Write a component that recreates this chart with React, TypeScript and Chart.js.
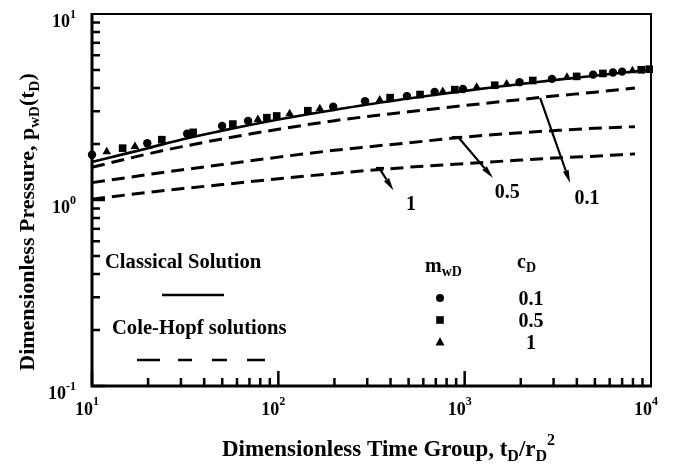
import React, { useEffect, useRef } from "react";
import { Chart, registerables } from "chart.js";

Chart.register(...registerables);

const FONT = '"Liberation Serif", "Times New Roman", serif';

// ---- Data ----
const classicalT = [10, 15, 20, 30, 50, 70, 100, 150, 200, 300, 500, 700, 1000, 1500, 2000, 3000, 5000, 7000, 10000];
const classicalP = [1.6, 1.77, 1.9, 2.11, 2.36, 2.53, 2.71, 2.91, 3.05, 3.26, 3.51, 3.68, 3.86, 4.06, 4.2, 4.41, 4.66, 4.83, 5.01];

const coleT = [10, 20, 30, 50, 100, 200, 300, 500, 1000, 2000, 3000, 5000, 8200];
const cole01 = [1.5, 1.77, 1.93, 2.13, 2.4, 2.67, 2.81, 2.98, 3.22, 3.47, 3.62, 3.8, 4.0];
const cole05 = [1.24, 1.37, 1.45, 1.55, 1.7, 1.85, 1.93, 2.03, 2.18, 2.3, 2.36, 2.43, 2.48];
const cole1 = [1.01, 1.1, 1.15, 1.21, 1.3, 1.39, 1.44, 1.5, 1.57, 1.64, 1.68, 1.72, 1.77];

const circleT = [10, 19.8, 32.4, 49.9, 68.8, 197, 292, 490, 690, 979, 1970, 2940, 4890, 6250, 7000];
const circleP = [1.75, 2.02, 2.27, 2.5, 2.66, 3.17, 3.4, 3.62, 3.81, 3.95, 4.3, 4.48, 4.72, 4.85, 4.9];
const squareT = [14.6, 23.7, 34.9, 57, 86.8, 98, 144, 398, 576, 885, 1450, 2320, 3990, 5520, 8860, 9780];
const squareP = [1.9, 2.11, 2.31, 2.56, 2.77, 2.83, 3.02, 3.55, 3.69, 3.92, 4.14, 4.39, 4.62, 4.79, 5.01, 5.05];
const triangleT = [12, 17, 77.7, 115, 167, 350, 763, 1160, 1680, 3540, 7950];
const triangleP = [1.82, 1.94, 2.71, 2.91, 3.09, 3.45, 3.83, 4.04, 4.21, 4.57, 4.96];

const xMajorTicks = [10, 100, 1000, 10000];
const yMajorTicks = [0.1, 1, 10];

const legendCD = ["0.1", "0.5", "1"];

// arrow annotations (data coordinates)
const arrowLabels = ["1", "0.5", "0.1"];
const arrowFrom: [number, number][] = [[350, 1.47], [922, 2.18], [2540, 3.54]];
const arrowTo: [number, number][] = [[415, 1.125], [1419, 1.313], [3680, 1.234]];
const arrowStubFrom: ([number, number] | null)[] = [[334, 1.486], [855, 2.18], null];
const arrowStubTo: ([number, number] | null)[] = [[369, 1.486], [968, 2.18], null];
const arrowLabelAt: [number, number][] = [[516, 0.963], [1690, 1.118], [4540, 1.038]];

type Part = { t: string; s: number; dy?: number };

function richWidth(ctx: CanvasRenderingContext2D, parts: Part[]) {
  let w = 0;
  for (const p of parts) {
    ctx.font = `bold ${p.s}px ${FONT}`;
    w += ctx.measureText(p.t).width;
  }
  return w;
}

function drawRich(ctx: CanvasRenderingContext2D, parts: Part[], x: number, y: number, align: "left" | "center" | "right") {
  const w = richWidth(ctx, parts);
  let cx = align === "left" ? x : align === "center" ? x - w / 2 : x - w;
  ctx.textAlign = "left";
  ctx.textBaseline = "alphabetic";
  for (const p of parts) {
    ctx.font = `bold ${p.s}px ${FONT}`;
    ctx.fillText(p.t, cx, y + (p.dy || 0));
    cx += ctx.measureText(p.t).width;
  }
}

function drawMarker(ctx: CanvasRenderingContext2D, style: string, x: number, y: number) {
  ctx.beginPath();
  if (style === "circle") {
    ctx.arc(x, y, 4, 0, Math.PI * 2);
  } else if (style === "rect") {
    ctx.rect(x - 3.8, y - 3.8, 7.6, 7.6);
  } else {
    ctx.moveTo(x, y - 5);
    ctx.lineTo(x + 4.5, y + 3.5);
    ctx.lineTo(x - 4.5, y + 3.5);
    ctx.closePath();
  }
  ctx.fill();
}

const overlay = {
  id: "overlay",
  afterDraw(chart: any) {
    const ctx: CanvasRenderingContext2D = chart.ctx;
    const xs = chart.scales.x;
    const ys = chart.scales.y;
    const ca = chart.chartArea;
    ctx.save();
    ctx.strokeStyle = "#000";
    ctx.fillStyle = "#000";
    ctx.lineCap = "butt";

    // frame
    ctx.lineWidth = 2;
    ctx.beginPath();
    ctx.moveTo(ca.left, ca.top);
    ctx.lineTo(ca.right, ca.top);
    ctx.lineTo(ca.right, ca.bottom);
    ctx.stroke();
    ctx.lineWidth = 3;
    ctx.beginPath();
    ctx.moveTo(ca.left, ca.top - 1);
    ctx.lineTo(ca.left, ca.bottom);
    ctx.lineTo(ca.right + 1, ca.bottom);
    ctx.stroke();

    // inward ticks
    ctx.lineWidth = 2.5;
    const xmin = xMajorTicks[0], xmax = xMajorTicks[xMajorTicks.length - 1];
    for (let d = xmin; d < xmax; d *= 10) {
      for (let m = 1; m <= 9; m++) {
        const px = xs.getPixelForValue(d * m);
        const len = m === 1 ? 15 : 8;
        ctx.beginPath();
        ctx.moveTo(px, ca.bottom);
        ctx.lineTo(px, ca.bottom - len);
        ctx.stroke();
      }
    }
    const ymin = yMajorTicks[0], ymax = yMajorTicks[yMajorTicks.length - 1];
    for (let d = ymin; d < ymax * 0.99; d *= 10) {
      for (let m = 1; m <= 9; m++) {
        const py = ys.getPixelForValue(d * m);
        const len = m === 1 ? 13 : 8;
        ctx.beginPath();
        ctx.moveTo(ca.left, py);
        ctx.lineTo(ca.left + len, py);
        ctx.stroke();
      }
    }

    // tick labels
    for (const v of xMajorTicks) {
      const px = xs.getPixelForValue(v);
      const e = Math.round(Math.log10(v));
      ctx.font = `bold 18px ${FONT}`;
      const bw = ctx.measureText("10").width;
      drawRich(ctx, [{ t: "10", s: 18 }, { t: String(e), s: 12, dy: -10 }], px + 1 - bw, ca.bottom + 29, "left");
    }
    for (const v of yMajorTicks) {
      const py = ys.getPixelForValue(v);
      const e = Math.round(Math.log10(v));
      drawRich(ctx, [{ t: "10", s: 18 }, { t: e < 0 ? "-" + Math.abs(e) : String(e), s: 12, dy: -9 }], ca.left - 16, py + 13, "right");
    }

    // axis titles
    drawRich(
      ctx,
      [
        { t: "Dimensionless Time Group, t", s: 23 },
        { t: "D", s: 16, dy: 5 },
        { t: "/r", s: 23 },
        { t: "D", s: 16, dy: 5 },
        { t: "2", s: 16, dy: -11 },
      ],
      (ca.left + ca.right) / 2 + 17,
      ca.bottom + 70,
      "center"
    );
    ctx.save();
    ctx.translate(ca.left - 58, (ca.top + ca.bottom) / 2 + 22);
    ctx.rotate(-Math.PI / 2);
    drawRich(
      ctx,
      [
        { t: "Dimensionless Pressure, p", s: 22 },
        { t: "wD", s: 15, dy: 5 },
        { t: "(t", s: 22 },
        { t: "D", s: 15, dy: 5 },
        { t: ")", s: 22 },
      ],
      0,
      0,
      "center"
    );
    ctx.restore();

    // legend (left block)
    const L = ca.left;
    const T = ca.top;
    drawRich(ctx, [{ t: "Classical Solution", s: 20.6 }], L + 13, T + 254, "left");
    ctx.lineWidth = 2.5;
    ctx.beginPath();
    ctx.moveTo(L + 70, T + 281);
    ctx.lineTo(L + 132, T + 281);
    ctx.stroke();
    drawRich(ctx, [{ t: "Cole-Hopf solutions", s: 20.6 }], L + 20, T + 320, "left");
    const segs = [[45, 68], [86, 100], [120, 135], [155, 173]];
    ctx.beginPath();
    for (const s of segs) {
      ctx.moveTo(L + s[0], T + 346);
      ctx.lineTo(L + s[1], T + 346);
    }
    ctx.stroke();

    // legend (right block)
    drawRich(ctx, [{ t: "m", s: 20 }, { t: "wD", s: 14, dy: 4 }], L + 333, T + 258, "left");
    drawRich(ctx, [{ t: "c", s: 20 }, { t: "D", s: 14, dy: 4 }], L + 425, T + 254, "left");
    const styles = ["circle", "rect", "triangle"];
    for (let i = 0; i < 3; i++) {
      const cy = T + 284 + i * 22;
      drawMarker(ctx, styles[i], L + 348, cy);
      drawRich(ctx, [{ t: legendCD[i], s: 20 }], L + 439, cy + 7, "center");
    }

    // arrows
    ctx.lineWidth = 2.2;
    for (let i = 0; i < arrowLabels.length; i++) {
      const x1 = xs.getPixelForValue(arrowFrom[i][0]);
      const y1 = ys.getPixelForValue(arrowFrom[i][1]);
      const x2 = xs.getPixelForValue(arrowTo[i][0]);
      const y2 = ys.getPixelForValue(arrowTo[i][1]);
      const sf = arrowStubFrom[i];
      const st = arrowStubTo[i];
      if (sf && st) {
        ctx.beginPath();
        ctx.moveTo(xs.getPixelForValue(sf[0]), ys.getPixelForValue(sf[1]));
        ctx.lineTo(xs.getPixelForValue(st[0]), ys.getPixelForValue(st[1]));
        ctx.stroke();
      }
      const ang = Math.atan2(y2 - y1, x2 - x1);
      const hl = 13, hw = 3;
      const bx = x2 - Math.cos(ang) * hl;
      const by = y2 - Math.sin(ang) * hl;
      ctx.beginPath();
      ctx.moveTo(x1, y1);
      ctx.lineTo(bx, by);
      ctx.stroke();
      ctx.beginPath();
      ctx.moveTo(x2, y2);
      ctx.lineTo(bx + Math.sin(ang) * hw, by - Math.cos(ang) * hw);
      ctx.lineTo(bx - Math.sin(ang) * hw, by + Math.cos(ang) * hw);
      ctx.closePath();
      ctx.fill();
      const lx = xs.getPixelForValue(arrowLabelAt[i][0]);
      const ly = ys.getPixelForValue(arrowLabelAt[i][1]);
      drawRich(ctx, [{ t: arrowLabels[i], s: 20 }], lx, ly + 7, "center");
    }

    ctx.restore();
  },
};

function pts(t: number[], p: number[]) {
  return t.map((v, i) => ({ x: v, y: p[i] }));
}

export default function App() {
  const ref = useRef<HTMLCanvasElement>(null);
  useEffect(() => {
    const lineBase = {
      showLine: true,
      pointRadius: 0,
      borderColor: "#000",
      backgroundColor: "#000",
      cubicInterpolationMode: "monotone" as const,
      clip: false as any,
    };
    const markerBase = {
      showLine: false,
      borderColor: "#000",
      backgroundColor: "#000",
      borderWidth: 0,
      clip: false as any,
    };
    const chart = new Chart(ref.current!, {
      type: "scatter",
      data: {
        datasets: [
          { ...lineBase, label: "Classical Solution", data: pts(classicalT, classicalP), borderWidth: 2.6 },
          { ...lineBase, label: "cD 0.1", data: pts(coleT, cole01), borderWidth: 3, borderDash: [13, 7] },
          { ...lineBase, label: "cD 0.5", data: pts(coleT, cole05), borderWidth: 3, borderDash: [13, 7] },
          { ...lineBase, label: "cD 1", data: pts(coleT, cole1), borderWidth: 3, borderDash: [13, 7] },
          { ...markerBase, label: "0.1", data: pts(circleT, circleP), pointStyle: "circle", pointRadius: 4.2 },
          { ...markerBase, label: "0.5", data: pts(squareT, squareP), pointStyle: "rect", pointRadius: 5.4 },
          { ...markerBase, label: "1", data: pts(triangleT, triangleP), pointStyle: "triangle", pointRadius: 5 },
        ],
      } as any,
      options: {
        animation: false,
        responsive: false,
        devicePixelRatio: 1,
        layout: { padding: { left: 92, right: 28, top: 14, bottom: 78 } },
        plugins: { legend: { display: false }, tooltip: { enabled: false } },
        scales: {
          x: { type: "logarithmic", min: 10, max: 10000, display: false },
          y: { type: "logarithmic", min: 0.1, max: 10, display: false },
        },
      },
      plugins: [overlay],
    });
    return () => chart.destroy();
  }, []);
  return (
    <div style={{ position: "fixed", left: 0, top: 0, width: 679, height: 464, background: "#fff" }}>
      <canvas ref={ref} width={679} height={464} style={{ display: "block", width: 679, height: 464 }} />
    </div>
  );
}
